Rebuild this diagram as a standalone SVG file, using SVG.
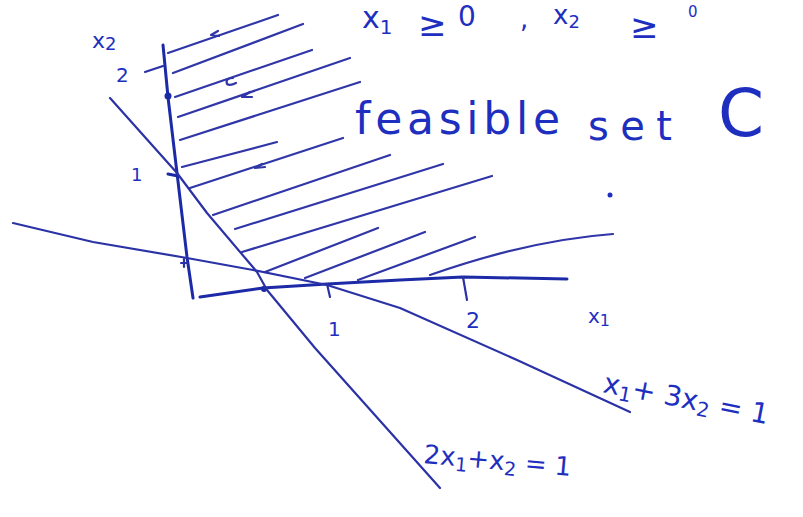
<svg xmlns="http://www.w3.org/2000/svg" width="803" height="517" viewBox="0 0 803 517">
<style>
.ax{fill:none;stroke:#1c2aa8;stroke-width:3;stroke-linecap:round;stroke-linejoin:round}
.ln{fill:none;stroke:#2a32a6;stroke-width:2.2;stroke-linecap:round;stroke-linejoin:round}
.ht{fill:none;stroke:#3036a8;stroke-width:2.2;stroke-linecap:round;stroke-linejoin:round}
.tx{font-family:"DejaVu Sans","Liberation Sans",sans-serif;fill:#1e2fc0}
</style>
<rect width="803" height="517" fill="#ffffff"/>
<g id="hatching">
<path class="ht" d="M168,53 L278,15"/>
<path class="ht" d="M173,73 L303,24"/>
<path class="ht" d="M175,97 L312,50"/>
<path class="ht" d="M178,117 L350,58"/>
<path class="ht" d="M180,140 L360,82"/>
<path class="ht" d="M182,167 L277,142"/>
<path class="ht" d="M190,188 L343,138"/>
<path class="ht" d="M213,215 L390,155"/>
<path class="ht" d="M235,229 L443,164"/>
<path class="ht" d="M242,252 L492,176"/>
<path class="ht" d="M265,272 L378,228"/>
<path class="ht" d="M305,278 L425,232"/>
<path class="ht" d="M358,280 L475,237"/>
<path class="ht" d="M430,275 Q530,240 613,234"/>
<path class="ht" d="M218,31 l-7,4 l8,1"/>
<path class="ht" d="M233,78 q-8,0 -6,6 q3,2 9,-1"/>
<path class="ht" d="M250,92 l-8,5 l10,0"/>
<path class="ht" d="M262,164 l-7,4 l10,-1"/>
</g>
<g id="axes">
<path class="ax" d="M163,45 L168,97 L177,173 L187,257 L193,298"/>
<path class="ax" d="M200,297 L263,288 L327,284 L400,280 L463,277 L567,279"/>
<path class="ln" d="M327,284 L330,297"/>
<path class="ln" d="M463,277 L467,300"/>
<path class="ln" d="M145,72 L163,66"/>
<circle cx="168" cy="96" r="3.5" fill="#1c2aa8"/>
<path class="ax" d="M168,174 L178,176"/>
<path class="ln" d="M181,263 L187,263 M184,259 L184,267"/>
<circle cx="264" cy="289" r="3" fill="#1c2aa8"/>
<circle cx="610" cy="195" r="2.5" fill="#1e2fc0"/>
</g>
<g id="constraints">
<path class="ln" d="M110,98 L177,173 L207,213 L257,272 L267,290 L315,348 L440,488"/>
<path class="ln" d="M13,223 L93,242 L187,258 L253,270 L327,285 L400,308 L517,360 L630,412"/>
</g>
<g id="labels">
<text class="tx" x="362" y="28" font-size="30">x<tspan font-size="20" dy="6">1</tspan></text>
<text class="tx" x="418" y="36" font-size="34">≥</text>
<text class="tx" x="458" y="26" font-size="28">0</text>
<text class="tx" x="520" y="28" font-size="26">,</text>
<text class="tx" x="553" y="24" font-size="26">x<tspan font-size="18" dy="4">2</tspan></text>
<text class="tx" x="630" y="38" font-size="34">≥</text>
<text class="tx" x="688" y="17" font-size="15">0</text>
<text class="tx" x="92" y="48" font-size="22">x<tspan font-size="18" dy="2">2</tspan></text>
<text class="tx" x="116" y="82" font-size="20">2</text>
<text class="tx" x="131" y="181" font-size="18">1</text>
<text class="tx" x="328" y="336" font-size="20">1</text>
<text class="tx" x="466" y="328" font-size="22">2</text>
<text class="tx" x="588" y="323" font-size="20">x<tspan font-size="16" dy="3">1</tspan></text>
<text class="tx" x="355" y="134" font-size="44" textLength="205" lengthAdjust="spacing">feasible</text>
<text class="tx" x="588" y="140" font-size="40" textLength="84" lengthAdjust="spacing">set</text>
<text class="tx" x="718" y="136" font-size="66">C</text>
<text class="tx" x="602" y="392" font-size="28" transform="rotate(11 602 392)">x<tspan font-size="20" dy="5">1</tspan><tspan dy="-5">+ 3x</tspan><tspan font-size="20" dy="5">2</tspan><tspan dy="-5"> = 1</tspan></text>
<text class="tx" x="423" y="463" font-size="26" transform="rotate(5 423 463)">2x<tspan font-size="19" dy="5">1</tspan><tspan dy="-5">+x</tspan><tspan font-size="19" dy="5">2</tspan><tspan dy="-5"> = 1</tspan></text>
</g>
</svg>
